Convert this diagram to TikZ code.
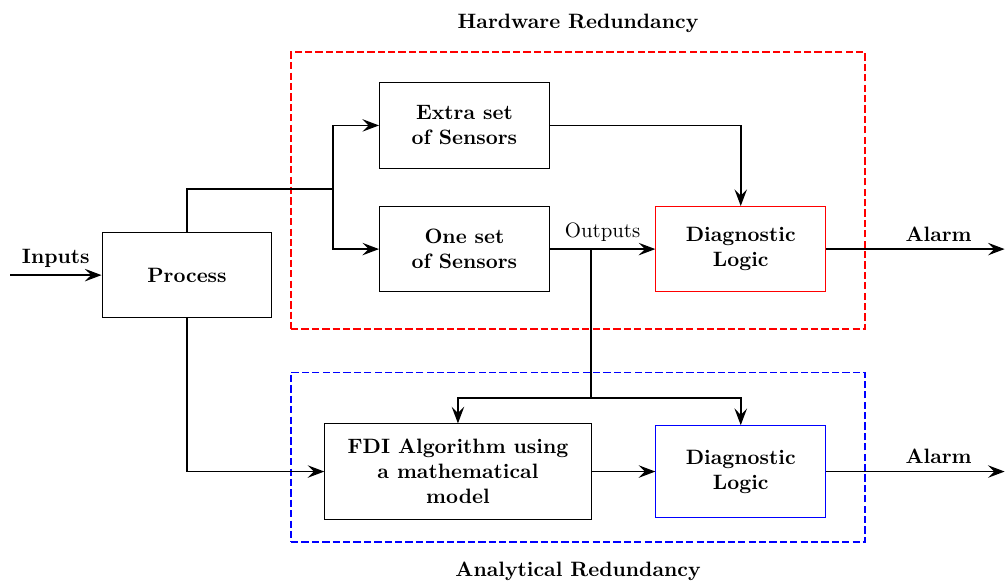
\documentclass[tikz,border=0pt]{standalone}
\usepackage{xcolor}
\usepackage{tikz}
\usetikzlibrary{shapes,arrows.meta,positioning,calc}

\begin{document}
\begin{tikzpicture}[every node/.style={font=\bfseries},
  blk/.style={rectangle, draw, line width=0.5pt, minimum width=2.87cm, minimum height=1.44cm, align=center},
  flow/.style={-{Stealth[length=8pt, width=6pt, inset=3pt]}, thick},
  wire/.style={thick},
  zone/.style={rectangle, semithick, dash pattern=on 3.5pt off 1.5pt}]
\useasboundingbox (0,0) rectangle (17.02,9.92);

% redundancy zones
\node[zone, draw=red, minimum width=9.70cm, minimum height=4.68cm] (hwbox) at (9.77,6.70) {};
\node[zone, draw=blue, minimum width=9.70cm, minimum height=2.87cm] (anbox) at (9.77,2.195) {};
\node[above=2mm of hwbox] (hwlbl) {Hardware Redundancy};
\node[below=2mm of anbox] (anlbl) {Analytical Redundancy};

% blocks
\node[blk] (proc) at (3.16,5.27) {Process};
\node[blk] (extra) at (7.85,7.80) {Extra set\\of Sensors};
\node[blk] (one) at (7.85,5.71) {One set\\of Sensors};
\node[blk, draw=red] (diag1) at (12.52,5.71) {Diagnostic\\Logic};
\node[blk, minimum width=4.50cm, minimum height=1.61cm] (fdi) at (7.74,1.95) {FDI Algorithm using\\a mathematical\\model};
\node[blk, draw=blue, minimum height=1.55cm] (diag2) at (12.52,1.95) {Diagnostic\\Logic};

% free ends and branch points
\coordinate (in) at (0.17,5.27);
\coordinate (split) at (5.63,6.73);
\coordinate (tap) at (9.99,5.71);
\coordinate (fork) at (9.99,3.19);
\coordinate (al1) at (16.98,5.71);
\coordinate (al2) at (16.98,1.95);

% connectors
\draw[flow] (in) -- node[above] {Inputs} (proc);
\draw[wire] (proc.north) |- (split);
\draw[flow] (split) |- (extra.west);
\draw[flow] (split) |- (one.west);
\draw[flow] (extra.east) -| (diag1.north);
\draw[flow] (one.east) -- node[above, font=\normalfont] {Outputs} (diag1.west);
\draw[wire] (tap) -- (fork);
\draw[flow] (fork) -| (fdi.north);
\draw[flow] (fork) -| (diag2.north);
\draw[flow] (proc.south) |- (fdi.west);
\draw[flow] (fdi.east) -- (diag2.west);
\draw[flow] (diag1.east) -- node[above, pos=0.63] {Alarm} (al1);
\draw[flow] (diag2.east) -- node[above, pos=0.63] {Alarm} (al2);
\end{tikzpicture}
\end{document}
